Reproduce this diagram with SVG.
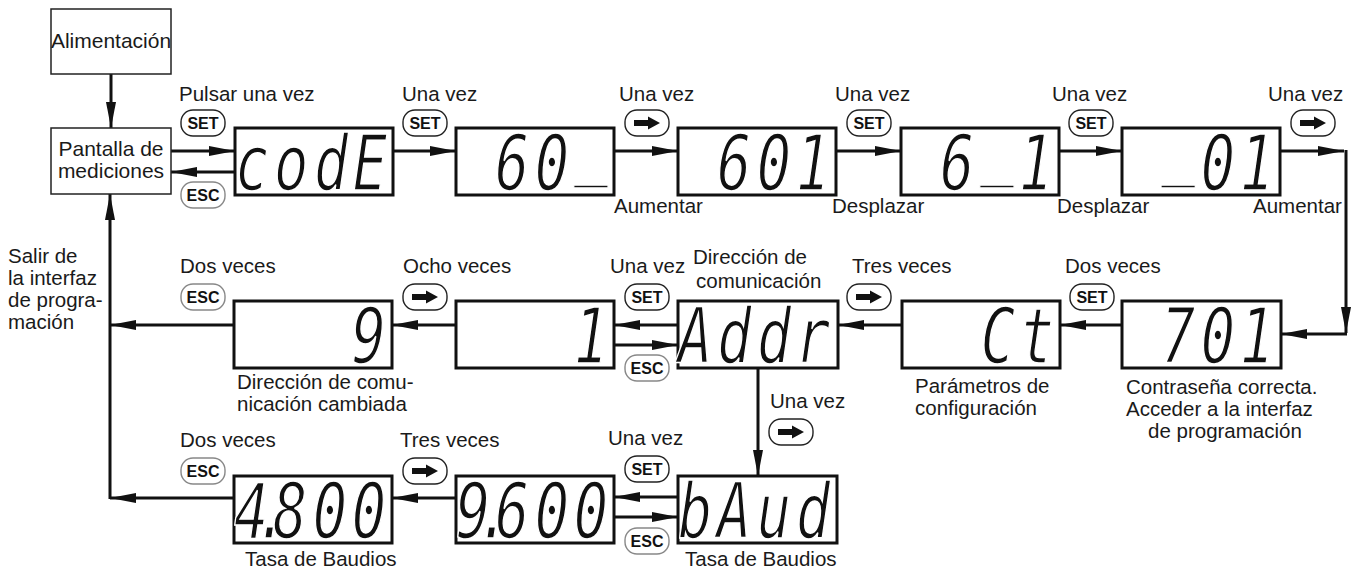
<svg xmlns="http://www.w3.org/2000/svg" xmlns:xlink="http://www.w3.org/1999/xlink" width="1363" height="575" viewBox="0 0 1363 575">
<style>
.box{fill:#fff;stroke:#222;stroke-width:1.5}
.disp{fill:#fff;stroke:#111;stroke-width:3}
.t{font-family:"Liberation Sans",Arial,sans-serif;font-size:20.5px;fill:#1a1a1a}
.tb{font-family:"Liberation Sans",Arial,sans-serif;font-size:21px;fill:#1a1a1a;text-anchor:middle}
.lcd{font-family:"DejaVu Sans Mono",monospace;font-style:oblique;font-size:76px;fill:#111;stroke:#fff;stroke-width:1.6}
.ln{fill:none;stroke:#111;stroke-width:3;marker-end:url(#ah)}
.btn{fill:#fff;stroke:#222;stroke-width:1.4}
.btne{fill:#fff;stroke:#888;stroke-width:1.4}
.bt{font-family:"Liberation Sans",Arial,sans-serif;font-size:16px;font-weight:bold;fill:#111;text-anchor:middle}
</style>
<defs>
<marker id="ah" markerUnits="userSpaceOnUse" markerWidth="28" markerHeight="12" refX="26" refY="6" orient="auto">
<path d="M0,1 L26,6 L0,11 Z" fill="#111"/>
</marker>
<g id="b-set"><rect x="0" y="0" width="44" height="26" rx="12" class="btn"/><text x="22" y="19" class="bt">SET</text></g>
<g id="b-esc"><rect x="0" y="0" width="44" height="26" rx="12" class="btne"/><text x="22" y="19" class="bt">ESC</text></g>
<g id="b-arr"><rect x="0" y="0" width="44" height="26" rx="12" class="btn"/><path d="M9,10 H23 V6.5 L35,13 L23,19.5 V16 H9 Z" fill="#111"/></g>
</defs>
<rect width="1363" height="575" fill="#fff"/>

<g id="connectors">
<line class="ln" x1="111" y1="74" x2="111" y2="128"/>
<line class="ln" x1="171" y1="151" x2="235" y2="151"/>
<line class="ln" x1="235" y1="172" x2="171" y2="172"/>
<line class="ln" x1="393" y1="151" x2="456" y2="151"/>
<line class="ln" x1="614" y1="151" x2="678" y2="151"/>
<line class="ln" x1="836" y1="151" x2="901" y2="151"/>
<line class="ln" x1="1059" y1="151" x2="1122" y2="151"/>
<line class="ln" x1="1280" y1="151" x2="1344" y2="151"/>
<line class="ln" x1="1346" y1="150" x2="1346" y2="333"/>
<line class="ln" x1="1347" y1="334" x2="1281" y2="334"/>
<line class="ln" x1="1122" y1="325" x2="1060" y2="325"/>
<line class="ln" x1="902" y1="325" x2="838" y2="325"/>
<line class="ln" x1="678" y1="325" x2="614" y2="325"/>
<line class="ln" x1="614" y1="345" x2="678" y2="345"/>
<line class="ln" x1="456" y1="325" x2="392" y2="325"/>
<line class="ln" x1="234" y1="325" x2="110" y2="325"/>
<line class="ln" x1="758" y1="368" x2="758" y2="476"/>
<line class="ln" x1="678" y1="497" x2="614" y2="497"/>
<line class="ln" x1="614" y1="517" x2="678" y2="517"/>
<line class="ln" x1="456" y1="498" x2="392" y2="498"/>
<line class="ln" x1="234" y1="498" x2="110" y2="498"/>
<line class="ln" x1="110" y1="499" x2="110" y2="194"/>
</g>

<g id="n-alimentacion">
<rect class="box" x="51" y="9" width="120" height="65"/>
<text class="tb" x="111" y="48" font-size="20.5">Alimentación</text>
</g>
<g id="n-pantalla">
<rect class="box" x="51" y="128" width="120" height="66"/>
<text class="tb" x="111" y="156">Pantalla de</text>
<text class="tb" x="111" y="178">mediciones</text>
</g>

<g id="n-code"><rect class="disp" x="235" y="128" width="158" height="67"/>
<text class="lcd" transform="translate(235,190) scale(0.75,1)" x="0 52 105 157" y="0">codE</text></g>
<g id="n-60"><rect class="disp" x="456" y="128" width="158" height="67"/>
<text class="lcd" transform="translate(456,190) scale(0.75,1)" x="52 105 157" y="0 0 -20">60_</text></g>
<g id="n-601"><rect class="disp" x="678" y="128" width="158" height="67"/>
<text class="lcd" transform="translate(678,190) scale(0.75,1)" x="52 105 157" y="0">601</text></g>
<g id="n-6_1"><rect class="disp" x="901" y="128" width="158" height="67"/>
<text class="lcd" transform="translate(901,190) scale(0.75,1)" x="52 105 157" y="0 -20 0">6_1</text></g>
<g id="n-_01"><rect class="disp" x="1122" y="128" width="158" height="67"/>
<text class="lcd" transform="translate(1122,190) scale(0.75,1)" x="52 105 157" y="-20 0 0">_01</text></g>

<g id="n-701"><rect class="disp" x="1122" y="301" width="159" height="67"/>
<text class="lcd" transform="translate(1122,363) scale(0.75,1)" x="52 105 157" y="0">701</text></g>
<g id="n-ct"><rect class="disp" x="902" y="301" width="158" height="67"/>
<text class="lcd" transform="translate(902,363) scale(0.75,1)" x="105 157" y="0">Ct</text></g>
<g id="n-addr"><rect class="disp" x="678" y="301" width="160" height="67"/>
<text class="lcd" transform="translate(678,363) scale(0.75,1)" x="0 52 105 157" y="0">Addr</text></g>
<g id="n-1"><rect class="disp" x="456" y="301" width="158" height="67"/>
<text class="lcd" transform="translate(456,363) scale(0.75,1)" x="157" y="0">1</text></g>
<g id="n-9"><rect class="disp" x="234" y="301" width="158" height="67"/>
<text class="lcd" transform="translate(234,363) scale(0.75,1)" x="157" y="0">9</text></g>

<g id="n-baud"><rect class="disp" x="678" y="476" width="159" height="67"/>
<text class="lcd" transform="translate(678,538) scale(0.75,1)" x="0 52 105 157" y="0">bAud</text></g>
<g id="n-9600"><rect class="disp" x="456" y="476" width="158" height="67"/>
<text class="lcd" transform="translate(456,538) scale(0.75,1)" x="0 28 52 105 157" y="0">9.600</text></g>
<g id="n-4800"><rect class="disp" x="234" y="476" width="158" height="67"/>
<text class="lcd" transform="translate(234,538) scale(0.75,1)" x="0 28 52 105 157" y="0">4.800</text></g>

<g id="buttons">
<use xlink:href="#b-set" x="181" y="110"/>
<use xlink:href="#b-esc" x="181" y="182"/>
<use xlink:href="#b-set" x="403" y="110"/>
<use xlink:href="#b-arr" x="625" y="110"/>
<use xlink:href="#b-set" x="847" y="110"/>
<use xlink:href="#b-set" x="1069" y="110"/>
<use xlink:href="#b-arr" x="1291" y="110"/>
<use xlink:href="#b-set" x="1070" y="284"/>
<use xlink:href="#b-arr" x="847" y="284"/>
<use xlink:href="#b-set" x="625" y="284"/>
<use xlink:href="#b-esc" x="625" y="355"/>
<use xlink:href="#b-arr" x="403" y="284"/>
<use xlink:href="#b-esc" x="181" y="284"/>
<use xlink:href="#b-arr" x="769" y="419"/>
<use xlink:href="#b-set" x="625" y="456"/>
<use xlink:href="#b-esc" x="625" y="528"/>
<use xlink:href="#b-arr" x="403" y="458"/>
<use xlink:href="#b-esc" x="181" y="458"/>
</g>

<g id="labels" class="t">
<text class="t" x="179" y="101">Pulsar una vez</text>
<text class="t" x="402" y="101">Una vez</text>
<text class="t" x="619" y="101">Una vez</text>
<text class="t" x="835" y="101">Una vez</text>
<text class="t" x="1052" y="101">Una vez</text>
<text class="t" x="1268" y="101">Una vez</text>
<text class="t" x="614" y="213">Aumentar</text>
<text class="t" x="832" y="213">Desplazar</text>
<text class="t" x="1057" y="213">Desplazar</text>
<text class="t" x="1253" y="213">Aumentar</text>
<text class="t" x="8" y="263">Salir de</text>
<text class="t" x="8" y="285">la interfaz</text>
<text class="t" x="8" y="307">de progra-</text>
<text class="t" x="8" y="329">mación</text>
<text class="t" x="180" y="273">Dos veces</text>
<text class="t" x="403" y="273">Ocho veces</text>
<text class="t" x="610" y="273">Una vez</text>
<text class="t" x="693" y="264">Dirección de</text>
<text class="t" x="696" y="288">comunicación</text>
<text class="t" x="852" y="273">Tres veces</text>
<text class="t" x="1065" y="273">Dos veces</text>
<text class="t" x="237" y="389">Dirección de comu-</text>
<text class="t" x="237" y="411">nicación cambiada</text>
<text class="t" x="915" y="393">Parámetros de</text>
<text class="t" x="915" y="415">configuración</text>
<text class="t" x="1126" y="394">Contraseña correcta.</text>
<text class="t" x="1126" y="416">Acceder a la interfaz</text>
<text class="t" x="1148" y="438">de programación</text>
<text class="t" x="770" y="408">Una vez</text>
<text class="t" x="180" y="447">Dos veces</text>
<text class="t" x="400" y="447">Tres veces</text>
<text class="t" x="608" y="445">Una vez</text>
<text class="t" x="245" y="566">Tasa de Baudios</text>
<text class="t" x="685" y="566">Tasa de Baudios</text>
</g>
</svg>
